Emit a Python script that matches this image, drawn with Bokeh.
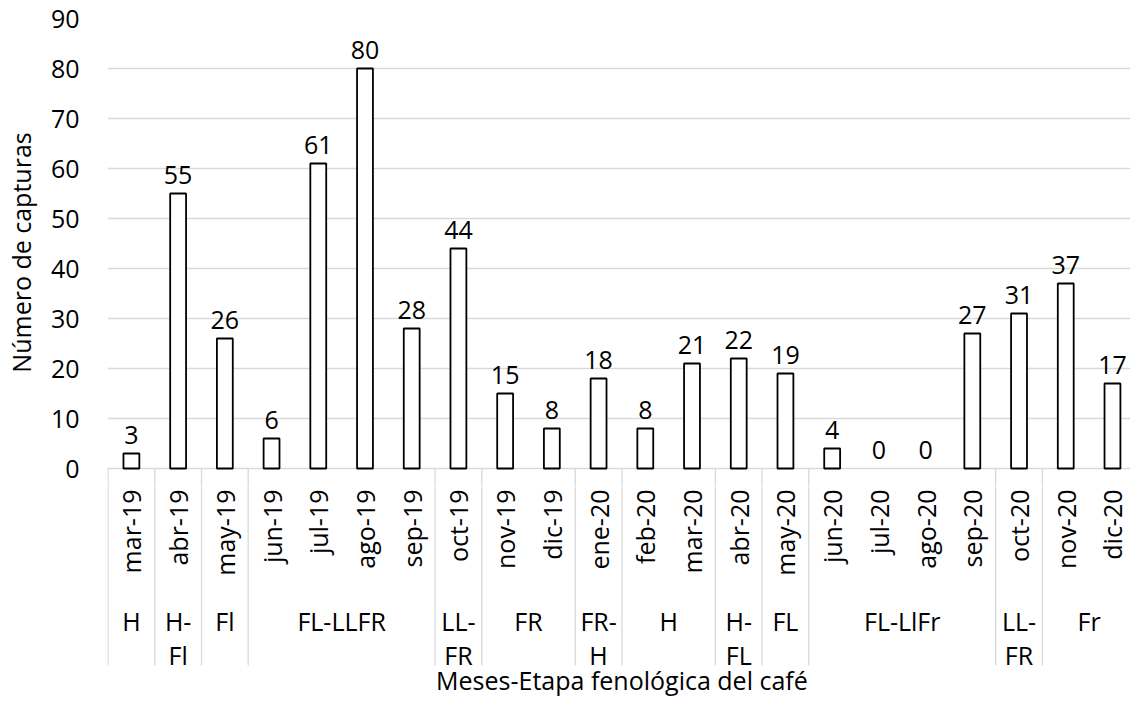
import math
from bokeh.plotting import figure
from bokeh.layouts import column
from bokeh.models import FixedTicker, Range1d, ColumnDataSource
from bokeh.core.properties import value
from bokeh.embed import file_html
from bokeh.resources import INLINE

# ---- data ----
months = ["mar-19", "abr-19", "may-19", "jun-19", "jul-19", "ago-19", "sep-19",
          "oct-19", "nov-19", "dic-19", "ene-20", "feb-20", "mar-20", "abr-20",
          "may-20", "jun-20", "jul-20", "ago-20", "sep-20", "oct-20", "nov-20", "dic-20"]
captures = [3, 55, 26, 6, 61, 80, 28, 44, 15, 8, 18, 8, 21, 22, 19, 4, 0, 0, 27, 31, 37, 17]
stages = ["H", "H-\nFl", "Fl", "FL-LLFR", "LL-\nFR", "FR", "FR-\nH", "H", "H-\nFL",
          "FL", "FL-LlFr", "LL-\nFR", "Fr"]
stage_sizes = [1, 1, 1, 4, 1, 2, 1, 2, 1, 1, 4, 1, 2]
y_ticks = [0, 10, 20, 30, 40, 50, 60, 70, 80, 90]
y_title = "Número de capturas"
x_title = "Meses-Etapa fenológica del café"

FONT = value("Open Sans")
FS = "25px"
GRID = "#d9d9d9"
W = 1130
LEFT = 103
TOP_BORDER = 18          # pixels above the 90 gridline
EXTRA = 18               # pixels of the bars figure below the value axis
PXU = 5.0                # pixels per unit
TOP_H = TOP_BORDER + int(90 * PXU) + EXTRA
BOT_H = 697 - TOP_H

idx = list(range(len(months)))
centers, bounds = [], [-0.5]
start = 0
for s in stage_sizes:
    centers.append(start + (s - 1) / 2)
    start += s
    bounds.append(start - 0.5)

x_range = Range1d(-0.5117, 21.386)

# ---------------- bars figure ----------------
p = figure(width=W, height=TOP_H, output_backend="svg", toolbar_location=None,
           x_range=x_range, y_range=Range1d(-EXTRA / PXU, 90),
           x_axis_location=None, min_border_left=LEFT, min_border_right=0,
           min_border_top=TOP_BORDER, min_border_bottom=0)
p.outline_line_color = None
p.xgrid.visible = False
p.ygrid.ticker = FixedTicker(ticks=y_ticks)
p.ygrid.grid_line_color = GRID
p.ygrid.grid_line_width = 1.3

yax = p.yaxis[0]
yax.ticker = FixedTicker(ticks=y_ticks, minor_ticks=[])
yax.axis_line_color = None
yax.major_tick_line_color = None
yax.minor_tick_line_color = None
yax.major_tick_out = 0
yax.major_label_standoff = 28
yax.major_label_text_font = "Open Sans"
yax.major_label_text_font_size = FS
yax.major_label_text_color = "black"
yax.axis_label = y_title
yax.axis_label_standoff = 10
yax.axis_label_text_font = "Open Sans"
yax.axis_label_text_font_size = FS
yax.axis_label_text_font_style = "normal"
yax.axis_label_text_color = "black"

# category separators (upper part)
p.segment(x0=bounds, y0=[0] * len(bounds), x1=bounds,
          y1=[-EXTRA / PXU] * len(bounds), line_color=GRID, line_width=1.3)

bars = ColumnDataSource(dict(
    x=idx, top=captures,
    outline=["black" if v > 0 else None for v in captures],
    label=[str(v) for v in captures],
))
p.vbar(x="x", top="top", bottom=0, width=0.34, fill_color="white",
       line_color="outline", line_width=1.8, source=bars)
p.text(x="x", y="top", text="label", text_align="center",
       text_baseline="alphabetic", y_offset=-19, text_font=FONT,
       text_font_size=FS, text_color="black", source=bars)

# ---------------- category-label figure ----------------
def below(d):
    # d: pixels below the value axis line
    return -(d - EXTRA)

q = figure(width=W, height=BOT_H, output_backend="svg", toolbar_location=None,
           x_range=x_range, y_range=Range1d(-BOT_H, 0),
           x_axis_location=None, y_axis_location=None, min_border_left=LEFT,
           min_border_right=0, min_border_top=0, min_border_bottom=0)
q.outline_line_color = None
q.xgrid.visible = False
q.ygrid.visible = False

q.segment(x0=bounds, y0=[below(EXTRA)] * len(bounds), x1=bounds,
          y1=[below(197)] * len(bounds), line_color=GRID, line_width=1.3)

q.text(x=idx, y=[below(21)] * len(idx), text=months, angle=math.pi / 2,
       text_align="right", text_baseline="middle", text_font=FONT,
       text_font_size=FS, text_color="black")

q.text(x=centers, y=[below(135)] * len(centers), text=stages, text_align="center",
       text_baseline="top", text_line_height=1.0, text_font=FONT,
       text_font_size=FS, text_color="black")

q.text(x=[10.5], y=[below(211)], text=[x_title], text_align="center",
       text_baseline="middle", text_font=FONT, text_font_size=FS, text_color="black")

layout = column(p, q, spacing=0)
open("out.html", "w").write(file_html(layout, INLINE))
